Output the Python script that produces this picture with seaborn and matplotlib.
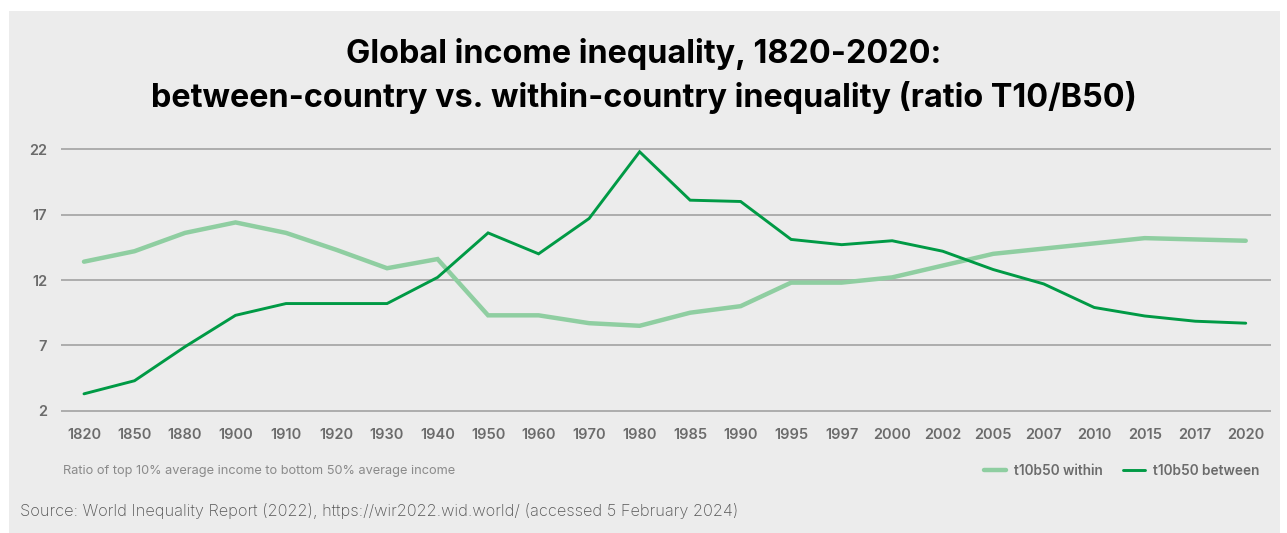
import matplotlib
matplotlib.use("Agg")
import matplotlib.pyplot as plt
from matplotlib.patches import Rectangle
from matplotlib.lines import Line2D
import pandas as pd
import seaborn as sns

# data
years = ["1820", "1850", "1880", "1900", "1910", "1920", "1930", "1940",
         "1950", "1960", "1970", "1980", "1985", "1990", "1995", "1997",
         "2000", "2002", "2005", "2007", "2010", "2015", "2017", "2020"]
within = [13.4, 14.2, 15.6, 16.4, 15.6, 14.3, 12.9, 13.6,
          9.3, 9.3, 8.7, 8.5, 9.5, 10.0, 11.8, 11.8,
          12.2, 13.1, 14.0, 14.4, 14.8, 15.2, 15.1, 15.0]
between = [3.3, 4.3, 6.9, 9.3, 10.2, 10.2, 10.2, 12.2,
           15.6, 14.0, 16.7, 21.8, 18.1, 18.0, 15.1, 14.7,
           15.0, 14.2, 12.8, 11.7, 9.9, 9.25, 8.85, 8.7]
series_names = ["t10b50 within", "t10b50 between"]
y_ticks = [2, 7, 12, 17, 22]

df = pd.DataFrame({
    "pos": list(range(len(years))) * 2,
    "value": within + between,
    "series": [series_names[0]] * len(years) + [series_names[1]] * len(years),
})

light_green = "#8fcea1"
dark_green = "#009a45"
panel = "#ececec"
tick_gray = "#6b6b6b"

sns.set_style("white")
plt.rcParams["font.family"] = ["Inter", "DejaVu Sans"]

fig = plt.figure(figsize=(12.87, 5.33), dpi=100, facecolor="white")
fig.patches.append(Rectangle((9 / 1287, 0), 1271 / 1287, 1 - 11 / 533,
                             transform=fig.transFigure, facecolor=panel,
                             edgecolor="none", zorder=-10))

ax = fig.add_axes([61 / 1287, 1 - 420 / 533, 1210 / 1287, 280 / 533])
ax.set_facecolor(panel)

sns.lineplot(data=df, x="pos", y="value", hue="series", ax=ax,
             palette={series_names[0]: light_green, series_names[1]: dark_green},
             legend=False)
for line, lw in zip(ax.get_lines(), [3.2, 2.1]):
    line.set_linewidth(lw)
    line.set_solid_joinstyle("miter")

ax.set_xlim(-0.455, len(years) - 1 + 0.5)
ax.set_ylim(1.3, 22.7)
ax.set_yticks(y_ticks)
ax.set_xticks(range(len(years)))
ax.set_xticklabels(years)
ax.set_xlabel("")
ax.set_ylabel("")
for s in ax.spines.values():
    s.set_visible(False)
ax.grid(axis="y", color="#9c9c9c", linewidth=1.1)
ax.set_axisbelow(True)
ax.tick_params(axis="both", length=0, labelsize=10.5, labelcolor=tick_gray)
ax.tick_params(axis="x", pad=6)
ax.tick_params(axis="y", pad=10)
for lab in ax.get_xticklabels() + ax.get_yticklabels():
    lab.set_fontweight("semibold")

fig.text(0.5, 1 - 76 / 533, "Global income inequality, 1820-2020:\n"
         "between-country vs. within-country inequality (ratio T10/B50)",
         ha="center", va="center", fontsize=23.3, fontweight="bold",
         color="black", linespacing=1.42)

fig.text(63 / 1287, 1 - 471 / 533,
         "Ratio of top 10% average income to bottom 50% average income",
         ha="left", va="center", fontsize=9.2, color="#8a8a8a")

fig.text(20 / 1287, 1 - 511 / 533,
         "Source: World Inequality Report (2022), https://wir2022.wid.world/ (accessed 5 February 2024)",
         ha="left", va="center", fontsize=11.8, color="#555555", fontweight="light")

handles = [Line2D([], [], color=light_green, lw=3.2),
           Line2D([], [], color=dark_green, lw=2.1)]
leg = fig.legend(handles, series_names, loc="center right",
                 bbox_to_anchor=(1272 / 1287, 1 - 471 / 533), ncol=2,
                 frameon=False, handlelength=1.6,
                 handletextpad=0.6, columnspacing=1.5,
                 prop={"weight": "semibold", "size": 9.8})
for t in leg.get_texts():
    t.set_color(tick_gray)

fig.savefig("out.png", dpi=100, facecolor="white")
